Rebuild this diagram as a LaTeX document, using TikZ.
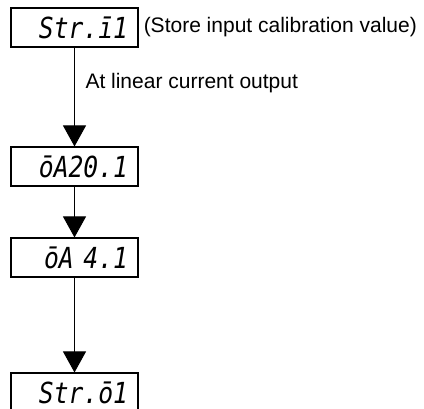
\documentclass[tikz,border=0pt]{standalone}
\usepackage{fontspec}
\setmainfont{Liberation Sans}
\newfontfamily\segfont[FakeStretch=0.85]{DejaVu Sans Mono}
\usepackage{tikz}
\usetikzlibrary{arrows.meta, positioning}
\tikzset{
  % display boxes
  segbox/.style={rectangle, draw=black, line width=1.1pt, minimum width=127pt, minimum height=39pt, inner xsep=10pt, inner ysep=0pt, text width=107pt, align=right, font=\segfont\itshape\fontsize{29}{30}\selectfont},
  note/.style={inner sep=0pt, font=\fontsize{21}{24}\selectfont},
  arrow/.style={-{Triangle[width=23pt, length=21pt]}, line width=1pt},
}
\begin{document}
\begin{tikzpicture}[x=1pt, y=-1pt]
    \useasboundingbox (0,0) rectangle (424,408);

    % displays
    \node[segbox] (stri) at (74.5,27.5) {Str.ī1};
    \node[segbox] (oa20) at (74.5,166.5) {ōA20.1};
    \node[segbox] (oa4) at (74.5,257.5) {ōA\ 4.1};
    \node[segbox] (stro) at (74.5,392.5) {Str.ō1};

    \node[note, right=5pt of stri] (store) {(Store input calibration value)};

    % arrows
    \draw[arrow] (stri) -- node[note, pos=0.36, right=10.5pt] (lin) {At linear current output} (oa20);
    \draw[arrow] (oa20) -- (oa4);
    \draw[arrow] (oa4) -- (stro);
\end{tikzpicture}
\end{document}
